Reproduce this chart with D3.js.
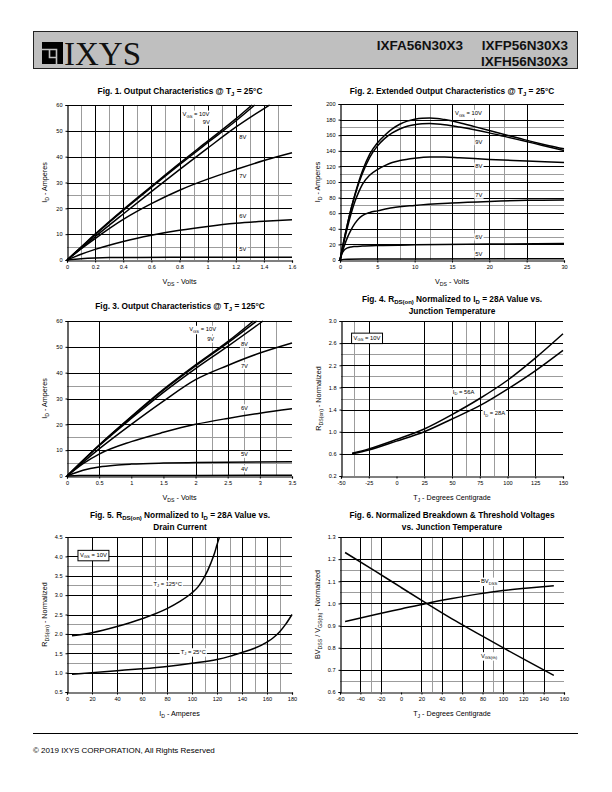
<!DOCTYPE html>
<html><head><meta charset="utf-8">
<script src="https://cdn.jsdelivr.net/npm/d3@7"></script>
<style>
body{margin:0;background:#fff}
svg text{font-family:"Liberation Sans",Arial,sans-serif;white-space:pre}
</style>
</head><body>
<svg id="page" width="612" height="792"></svg>
<script>
// ---------------- DATA ----------------
// Fig 1: Output characteristics @ 25C  [VDS (V), ID (A)]
const f1_10V = [[0,0],[0.1,5],[0.2,10],[0.4,19.5],[0.6,28.5],[0.8,37.4],[1.0,46],[1.2,54.6],[1.315,60]];
const f1_9V  = [[0,0],[0.1,4.9],[0.2,9.8],[0.4,19.2],[0.6,28.1],[0.8,36.9],[1.0,45.4],[1.2,53.8],[1.335,60]];
const f1_8V  = [[0,0],[0.1,4.5],[0.2,9],[0.4,17.8],[0.6,26.5],[0.8,35],[1.0,43.3],[1.2,51.4],[1.44,60]];
const f1_7V  = [[0,0],[0.1,4.3],[0.2,8.3],[0.4,15.7],[0.6,21.8],[0.8,27],[1.0,31.3],[1.2,35],[1.4,38.5],[1.6,41.5]];
const f1_6V  = [[0,0],[0.1,2.2],[0.2,4.1],[0.4,7.2],[0.6,9.6],[0.8,11.5],[1.0,13],[1.2,14.2],[1.4,15],[1.6,15.6]];
const f1_5V  = [[0,0],[0.1,0.5],[0.2,0.8],[0.3,0.95],[0.5,1.0],[1.0,1.05],[1.6,1.1]];
const f1_labels = ["V_{GS} = 10V","9V","8V","7V","6V","5V"];

// Fig 2: Extended output characteristics @ 25C
const f2_10V = [[0,0],[0.5,24],[1,46],[1.5,66],[2,84],[2.5,100],[3,114],[4,136],[5,150],[6,160],[7,168],[8,174],[9,178],[10,180.5],[11,181.8],[12,182],[13,181.5],[14,180],[16,176],[18,171],[20,166],[22,161],[24,156],[26,151],[28,146.5],[30,142.5]];
const f2_9V  = [[0,0],[0.5,24],[1,46],[1.5,66],[2,83],[2.5,98],[3,111],[4,132],[5,146],[6,156],[7,163],[8,168],[9,171.5],[10,173.5],[11,174.8],[12,175],[13,174.5],[14,173.5],[16,170.5],[18,167],[20,163],[22,158.5],[24,154],[26,149.5],[28,145],[30,140.5]];
const f2_8V  = [[0,0],[0.5,22],[1,42],[1.5,60],[2,75],[2.5,87],[3,97],[4,109],[5,116],[6,121],[7,125],[8,127.5],[10,130.5],[12,132],[14,132],[16,131],[18,130],[20,129],[25,127],[30,125]];
const f2_7V  = [[0,0],[0.5,16],[1,29],[1.5,39],[2,47],[2.5,53],[3,57],[4,61],[5,63],[7,67],[10,70],[15,73],[20,75],[25,76.5],[30,77]];
const f2_6V  = [[0,0],[0.25,8],[0.5,12],[1,15.5],[1.5,16.8],[2,17.3],[3,17.8],[5,18.5],[10,19.5],[20,20.5],[30,21]];
const f2_5V  = [[0,0],[0.5,0.8],[1,1.1],[3,1.3],[10,1.4],[30,1.6]];

// Fig 3: Output characteristics @ 125C
const f3_10V = [[0,0],[0.5,12],[1,23],[1.5,33.5],[2,43],[2.5,52],[2.9,60]];
const f3_9V  = [[0,0],[0.5,11.9],[1,22.8],[1.5,33.2],[2,42.6],[2.5,51.5],[2.95,60]];
const f3_8V  = [[0,0],[0.5,11.7],[1,22.3],[1.5,32.4],[2,41.6],[2.5,50.2],[3.05,60]];
const f3_7V  = [[0,0],[0.5,10.5],[1,20],[1.5,29],[2,37.3],[2.5,42.8],[3,47.6],[3.5,51.5]];
const f3_6V  = [[0,0],[0.25,4.8],[0.5,8.5],[1,13.3],[1.5,16.9],[2,20],[2.5,22.3],[3,24.3],[3.5,26]];
const f3_5V  = [[0,0],[0.25,2.2],[0.5,3.5],[0.75,4.2],[1,4.6],[1.5,5],[2,5.2],[3.5,5.5]];
const f3_4V  = [[0,0],[0.2,0.15],[0.5,0.2],[3.5,0.25]];

// Fig 4: RDS(on) vs junction temperature
const f4_56A = [[-40,0.61],[-25,0.69],[0,0.86],[25,1.05],[50,1.31],[75,1.6],[100,1.93],[125,2.33],[150,2.77]];
const f4_28A = [[-40,0.60],[-25,0.67],[0,0.83],[25,1.0],[50,1.23],[75,1.47],[100,1.77],[125,2.1],[150,2.47]];

// Fig 5: RDS(on) vs drain current
const f5_125C = [[4,1.95],[20,2.03],[40,2.19],[60,2.39],[80,2.65],[90,2.83],[100,3.06],[105,3.22],[110,3.47],[115,3.82],[118,4.08],[120,4.3],[122,4.5]];
const f5_25C  = [[4,0.96],[20,1.0],[40,1.05],[60,1.1],[80,1.16],[100,1.24],[120,1.34],[130,1.42],[140,1.52],[150,1.63],[160,1.79],[165,1.9],[170,2.05],[175,2.25],[180,2.5]];

// Fig 6: normalized BVDSS / VGS(th)
const f6_BV  = [[-55,0.918],[-25,0.95],[0,0.975],[25,1.0],[50,1.022],[75,1.042],[100,1.058],[125,1.07],[150,1.08]];
const f6_Vth = [[-55,1.23],[-25,1.145],[0,1.072],[25,1.0],[50,0.93],[75,0.865],[100,0.8],[125,0.737],[150,0.675]];

// tick values
const f1_xticks = [0,0.2,0.4,0.6,0.8,1,1.2,1.4,1.6], f1_yticks = [0,10,20,30,40,50,60];
const f2_xticks = [0,5,10,15,20,25,30], f2_yticks = [0,20,40,60,80,100,120,140,160,180,200];
const f3_xticks = [0,0.5,1,1.5,2,2.5,3,3.5], f3_yticks = [0,10,20,30,40,50,60];
const f4_xticks = [-50,-25,0,25,50,75,100,125,150], f4_yticks = [0.2,0.6,1.0,1.4,1.8,2.2,2.6,3.0];
const f5_xticks = [0,20,40,60,80,100,120,140,160,180], f5_yticks = [0.5,1,1.5,2,2.5,3,3.5,4,4.5];
const f6_xticks = [-60,-40,-20,0,20,40,60,80,100,120,140,160], f6_yticks = [0.6,0.7,0.8,0.9,1.0,1.1,1.2,1.3];

// ---------------- DRAWING ----------------
const svg = d3.select("#page");
svg.append("rect").attr("width",612).attr("height",792).attr("fill","#fff");

function rich(textSel, str, fs) {
  const re = /_\{([^}]*)\}/g; let last = 0, m; const parts = [];
  while ((m = re.exec(str))) { if (m.index > last) parts.push([str.slice(last, m.index), false]); parts.push([m[1], true]); last = re.lastIndex; }
  if (last < str.length) parts.push([str.slice(last), false]);
  let shifted = false;
  parts.forEach(([t, sub]) => {
    const ts = textSel.append("tspan").text(t);
    if (sub) { ts.attr("font-size", fs * 0.72).attr("dy", fs * 0.25); shifted = true; }
    else if (shifted) { ts.attr("dy", -fs * 0.25); shifted = false; }
  });
}
const px = v => Math.round(v) + 0.5;

function drawChart(c) {
  const g = svg.append("g");
  const x = d3.scaleLinear().domain(c.xd).range([c.L, c.R]);
  const y = d3.scaleLinear().domain(c.yd).range([c.B, c.T]);
  const gl = (arr, vert, col) => arr.forEach(v => {
    const l = g.append("line").attr("stroke", col).attr("stroke-width", 1);
    if (vert) l.attr("x1", px(x(v))).attr("x2", px(x(v))).attr("y1", c.T).attr("y2", c.B);
    else l.attr("y1", px(y(v))).attr("y2", px(y(v))).attr("x1", c.L).attr("x2", c.R);
  });
  gl(c.vG, true, "#9c9c9c"); gl(c.hG, false, "#9c9c9c");
  gl(c.vB, true, "#000"); gl(c.hB, false, "#000");
  // axes
  const ax = g.append("g").attr("transform", `translate(0,${px(c.B)})`)
    .call(d3.axisBottom(x).tickValues(c.xt).tickFormat(c.xf).tickSize(2).tickPadding(3));
  const ay = g.append("g").attr("transform", `translate(${px(c.L)},0)`)
    .call(d3.axisLeft(y).tickValues(c.yt).tickFormat(c.yf).tickSize(2).tickPadding(3));
  [ax, ay].forEach(a => {
    a.select(".domain").attr("stroke", "#000").attr("stroke-width", 1.2);
    a.selectAll(".tick line").attr("stroke", "#000");
    a.selectAll("text").attr("font-size", 5.6).attr("fill", "#000").attr("font-family", '"Liberation Sans",Arial,sans-serif');
  });
  // series
  const line = d3.line().x(d => x(d[0])).y(d => y(d[1])).curve(d3.curveMonotoneX);
  c.series.forEach(s => g.append("path").attr("d", line(s)).attr("fill", "none")
    .attr("stroke", "#000").attr("stroke-width", 1.5).attr("stroke-linejoin", "round"));
  // labels
  const lfs = 5.8;
  c.labels.forEach(l => {
    const lg = g.append("g");
    const r = lg.append("rect").attr("fill", "#fff");
    const t = lg.append("text").attr("x", x(l.x)).attr("y", y(l.y) + lfs * 0.35)
      .attr("text-anchor", "middle").attr("font-size", lfs).attr("fill", "#000");
    rich(t, l.t, lfs);
    const b = t.node().getBBox();
    const pad = l.box ? 2 : 1;
    r.attr("x", b.x - pad).attr("y", b.y - pad + 0.5).attr("width", b.width + 2 * pad).attr("height", b.height + 2 * pad - 1);
    if (l.box) r.attr("stroke", "#000").attr("stroke-width", 1);
  });
  // title
  c.title.forEach((tl, i) => {
    const t = g.append("text").attr("x", c.tx).attr("y", c.ty + i * 11.8).attr("text-anchor", "middle")
      .attr("font-size", 8.3).attr("font-weight", "bold").attr("fill", "#000");
    rich(t, tl, 8.3);
  });
  // x label
  const xl = g.append("text").attr("x", (c.L + c.R) / 2).attr("y", c.B + 24).attr("text-anchor", "middle")
    .attr("font-size", 7.2).attr("fill", "#000");
  rich(xl, c.xlab, 7.2);
  const yl = g.append("text").attr("transform", `translate(${c.L - 20},${(c.T + c.B) / 2}) rotate(-90)`)
    .attr("text-anchor", "middle").attr("font-size", 7.2).attr("fill", "#000");
  rich(yl, c.ylab, 7.2);
}

const dflt = d => String(d);
const f1 = d3.format(".1f");

// Fig 1
drawChart({L:67,R:292,T:105,B:260, xd:[0,1.6], yd:[0,60], xt:f1_xticks, yt:f1_yticks, xf:dflt, yf:dflt,
  vB:[0.2,0.4,0.6,0.8,1.0,1.2,1.4], vG:[0.1,0.3,0.5,0.7,0.9,1.1,1.3,1.5], hB:[10,20,30,40,50,60], hG:[5,25],
  series:[f1_10V,f1_9V,f1_8V,f1_7V,f1_6V,f1_5V],
  labels:[{t:f1_labels[0],x:0.917,y:56.5},{t:f1_labels[1],x:0.99,y:53.4},{t:f1_labels[2],x:1.25,y:47.7},
          {t:f1_labels[3],x:1.25,y:32.5},{t:f1_labels[4],x:1.25,y:17},{t:f1_labels[5],x:1.25,y:4.3}],
  title:["Fig. 1. Output Characteristics @ T_{J} = 25°C"], tx:180, ty:94,
  xlab:"V_{DS} - Volts", ylab:"I_{D} - Amperes"});

// Fig 2
drawChart({L:340,R:564,T:104,B:260, xd:[0,30], yd:[0,200], xt:f2_xticks, yt:f2_yticks, xf:dflt, yf:dflt,
  vB:[5,10,15,20,25], vG:[8,12,18,22], hB:[20,40,60,80,100,120,140,160,180,200], hG:[30,70,90,110,170],
  series:[f2_10V,f2_9V,f2_8V,f2_7V,f2_6V,f2_5V],
  labels:[{t:"V_{GS} = 10V",x:17.2,y:188},{t:"9V",x:18.6,y:151.7},{t:"8V",x:18.6,y:120.5},
          {t:"7V",x:18.6,y:83},{t:"6V",x:18.6,y:29.5},{t:"5V",x:18.6,y:7.7}],
  title:["Fig. 2. Extended Output Characteristics @ T_{J} = 25°C"], tx:452, ty:94,
  xlab:"V_{DS} - Volts", ylab:"I_{D} - Amperes"});

// Fig 3
drawChart({L:67,R:292,T:321,B:476, xd:[0,3.5], yd:[0,60], xt:f3_xticks, yt:f3_yticks, xf:dflt, yf:dflt,
  vB:[0.5,2,2.5,3], vG:[2.25,2.75,3.25], hB:[10,20,30,40,50,60], hG:[5,15,35],
  series:[f3_10V,f3_9V,f3_8V,f3_7V,f3_6V,f3_5V,f3_4V],
  labels:[{t:"V_{GS} = 10V",x:2.11,y:56.8},{t:"9V",x:2.235,y:53},{t:"8V",x:2.76,y:51},
          {t:"7V",x:2.76,y:42.7},{t:"6V",x:2.76,y:26.4},{t:"5V",x:2.76,y:8.4},{t:"4V",x:2.76,y:2.8}],
  title:["Fig. 3. Output Characteristics @ T_{J} = 125°C"], tx:180, ty:309,
  xlab:"V_{DS} - Volts", ylab:"I_{D} - Amperes"});

// Fig 4
drawChart({L:341,R:563,T:321,B:476, xd:[-50,150], yd:[0.2,3.0], xt:f4_xticks, yt:f4_yticks, xf:dflt, yf:f1,
  vB:[-25,25,50,75,100,125], vG:[-38,62.5,87.5], hB:[0.6,1.0,1.4,1.8,2.2,2.6,3.0], hG:[1.6,2.0,2.4],
  series:[f4_56A,f4_28A],
  labels:[{t:"V_{GS} = 10V",x:-26.6,y:2.70,box:true},{t:"I_{D} = 56A",x:60.5,y:1.72},{t:"I_{D} = 28A",x:88.1,y:1.33}],
  title:["Fig. 4. R_{DS(on)} Normalized to I_{D} = 28A Value vs.","Junction Temperature"], tx:452, ty:302,
  xlab:"T_{J} - Degrees Centigrade", ylab:"R_{DS(on)} - Normalized"});

// Fig 5
drawChart({L:67,R:292,T:537,B:692, xd:[0,180], yd:[0.5,4.5], xt:f5_xticks, yt:f5_yticks, xf:dflt, yf:f1,
  vB:[20,40,60,80,100,120,140,160], vG:[70,110,130,150,170], hB:[1,1.5,2,2.5,3,3.5,4,4.5], hG:[1.25,1.75,2.25,3.25,3.75],
  series:[f5_125C,f5_25C],
  labels:[{t:"V_{GS} = 10V",x:21.1,y:4.04,box:true},{t:"T_{J} = 125°C",x:80.5,y:3.29},{t:"T_{J} = 25°C",x:101,y:1.54}],
  title:["Fig. 5. R_{DS(on)} Normalized to I_{D} = 28A Value vs.","Drain Current"], tx:180, ty:518,
  xlab:"I_{D} - Amperes", ylab:"R_{DS(on)} - Normalized"});

// Fig 6
drawChart({L:340,R:564,T:537,B:692, xd:[-60,160], yd:[0.6,1.3], xt:f6_xticks, yt:f6_yticks, xf:dflt, yf:f1,
  vB:[-40,-20,20,40,60,80,100,120,140], vG:[-30,30,90], hB:[0.7,0.8,0.9,1.0,1.1,1.2,1.3], hG:[0.65,1.05,1.15],
  series:[f6_BV,f6_Vth],
  labels:[{t:"BV_{DSS}",x:86.4,y:1.101},{t:"V_{GS(th)}",x:86.4,y:0.764}],
  title:["Fig. 6. Normalized Breakdown & Threshold Voltages","vs. Junction Temperature"], tx:452, ty:518,
  xlab:"T_{J} - Degrees Centigrade", ylab:"BV_{DSS} / V_{GS(th)} - Normalized"});

// ---------------- HEADER / FOOTER ----------------
const hdr = svg.append("g");
hdr.append("rect").attr("x",33.5).attr("y",31.5).attr("width",544).attr("height",37)
  .attr("fill","#bfbfbf").attr("stroke","#222").attr("stroke-width",1);
hdr.append("rect").attr("x",42).attr("y",42).attr("width",21).attr("height",22).attr("fill","#000");
hdr.append("path").attr("d","M42,49.5 H56.5 V64 M49.5,49.5 V57.5 H56.5").attr("fill","none").attr("stroke","#bfbfbf").attr("stroke-width",1.6);
hdr.append("text").attr("x",64).attr("y",65).attr("font-size",33).attr("fill","#111")
  .style("font-family",'"Liberation Serif","Times New Roman",serif').text("IXYS");
const pn = (t, xx, yy) => hdr.append("text").attr("x",xx).attr("y",yy).attr("text-anchor","end")
  .attr("font-size",13.5).attr("font-weight","bold").attr("fill","#111").text(t);
pn("IXFA56N30X3", 463, 50); pn("IXFP56N30X3", 568, 50); pn("IXFH56N30X3", 568, 66);

svg.append("line").attr("x1",33).attr("x2",578).attr("y1",733.5).attr("y2",733.5).attr("stroke","#000").attr("stroke-width",1);
svg.append("text").attr("x",33).attr("y",753).attr("font-size",8).attr("fill","#000")
  .text("© 2019 IXYS CORPORATION, All Rights Reserved");
</script>
</body></html>
